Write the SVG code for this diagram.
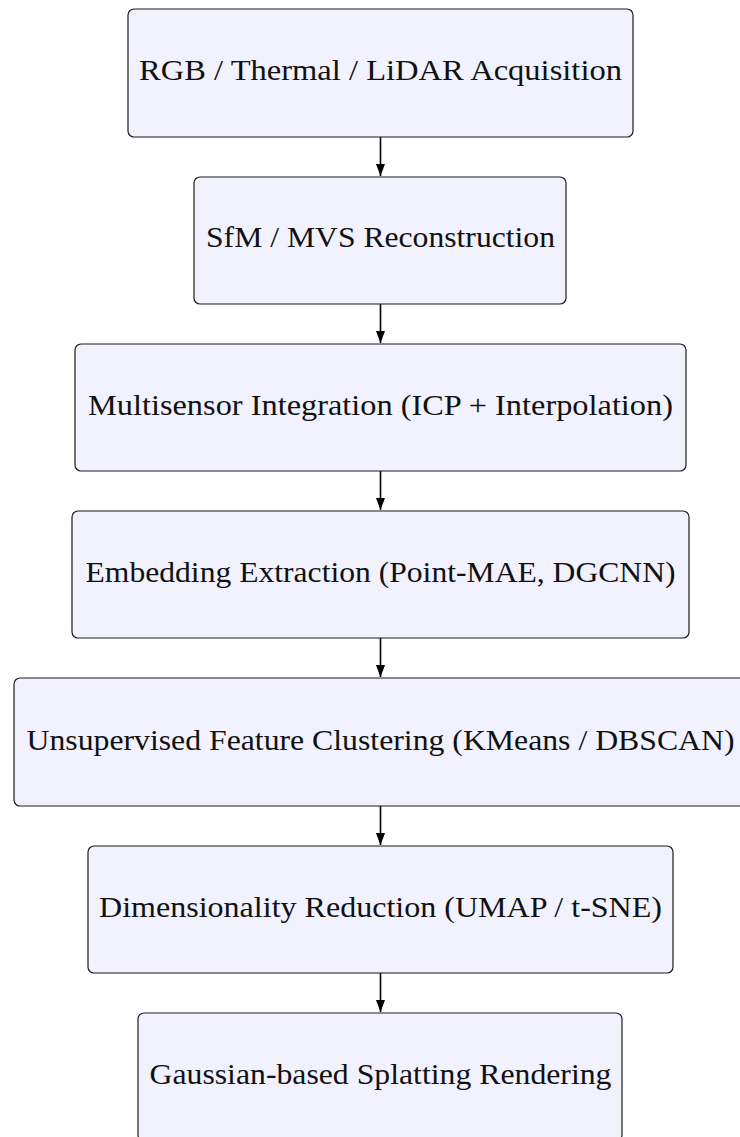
<svg xmlns="http://www.w3.org/2000/svg" width="740" height="1137" viewBox="0 0 740 1137">
  <style>
    .box { fill: #f2f2ff; stroke: #1a1a1a; stroke-width: 1.2; }
    .lbl { font-size: 30px; fill: #111; text-anchor: middle; }
    .edge { stroke: #000; stroke-width: 1.6; fill: none; }
  </style>
  <defs>
    <marker id="arrow" markerUnits="userSpaceOnUse" markerWidth="12" markerHeight="10" viewBox="0 0 12 10" refX="12" refY="5" orient="auto">
      <path d="M0,0.5 L12,5 L0,9.5 z" fill="#000"/>
    </marker>
  </defs>

  <rect width="740" height="1137" fill="#ffffff"/>

  <g id="connectors">
    <line class="edge" x1="380.5" y1="137" x2="380.5" y2="176" marker-end="url(#arrow)"/>
    <line class="edge" x1="380.5" y1="304" x2="380.5" y2="343" marker-end="url(#arrow)"/>
    <line class="edge" x1="380.5" y1="471" x2="380.5" y2="510" marker-end="url(#arrow)"/>
    <line class="edge" x1="380.5" y1="638" x2="380.5" y2="677" marker-end="url(#arrow)"/>
    <line class="edge" x1="380.5" y1="806" x2="380.5" y2="845" marker-end="url(#arrow)"/>
    <line class="edge" x1="380.5" y1="973" x2="380.5" y2="1012" marker-end="url(#arrow)"/>
  </g>

  <g font-family="'Liberation Serif', 'Times New Roman', serif">
  <g id="acquisition">
    <rect class="box" x="128" y="9" width="505" height="128" rx="6"/>
    <text class="lbl" x="380.5" y="80" textLength="483" lengthAdjust="spacingAndGlyphs">RGB / Thermal / LiDAR Acquisition</text>
  </g>
  <g id="reconstruction">
    <rect class="box" x="194" y="177" width="372" height="127" rx="6"/>
    <text class="lbl" x="380.5" y="247" textLength="349" lengthAdjust="spacingAndGlyphs">SfM / MVS Reconstruction</text>
  </g>
  <g id="integration">
    <rect class="box" x="75" y="344" width="611" height="127" rx="6"/>
    <text class="lbl" x="380.5" y="415" textLength="585" lengthAdjust="spacingAndGlyphs">Multisensor Integration (ICP + Interpolation)</text>
  </g>
  <g id="embedding">
    <rect class="box" x="72" y="511" width="617" height="127" rx="6"/>
    <text class="lbl" x="380.5" y="582" textLength="590" lengthAdjust="spacingAndGlyphs">Embedding Extraction (Point-MAE, DGCNN)</text>
  </g>
  <g id="clustering">
    <rect class="box" x="14" y="678" width="733" height="128" rx="6"/>
    <text class="lbl" x="380.5" y="750" textLength="708" lengthAdjust="spacingAndGlyphs">Unsupervised Feature Clustering (KMeans / DBSCAN)</text>
  </g>
  <g id="reduction">
    <rect class="box" x="88" y="846" width="585" height="127" rx="6"/>
    <text class="lbl" x="380.5" y="917" textLength="563" lengthAdjust="spacingAndGlyphs">Dimensionality Reduction (UMAP / t-SNE)</text>
  </g>
  <g id="rendering">
    <rect class="box" x="138" y="1013" width="484" height="128" rx="6"/>
    <text class="lbl" x="380.5" y="1084" textLength="462" lengthAdjust="spacingAndGlyphs">Gaussian-based Splatting Rendering</text>
  </g>
  </g>
</svg>
